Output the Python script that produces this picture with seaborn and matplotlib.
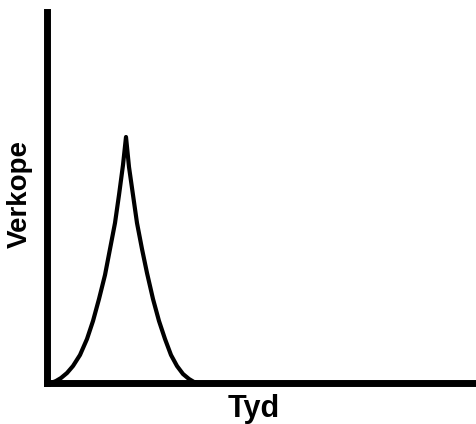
import matplotlib
matplotlib.use("Agg")
import matplotlib.pyplot as plt
import seaborn as sns
import pandas as pd

# Kurwe afgelees van die prent (x = tyd, y = verkope, willekeurige eenhede)
tyd = [4, 9, 14, 20, 26, 33, 40, 46, 52, 58, 63, 68, 72, 76, 79,
       82, 86, 90, 95, 100, 106, 112, 118, 124, 130, 136, 142, 147, 151]
verkope = [0, 2, 5, 10, 17, 28, 44, 62, 84, 108, 134, 160, 188, 218, 246,
           216, 188, 160, 134, 110, 84, 62, 44, 28, 17, 9, 4, 1, 0]

x_titel = "Tyd"
y_titel = "Verkope"

sns.set_style("white")
plt.rcParams['font.family'] = ['Liberation Sans', 'DejaVu Sans']
plt.rcParams['text.color'] = 'black'
plt.rcParams['axes.labelcolor'] = 'black'

fig = plt.figure(figsize=(4.76, 4.24), dpi=100)
ax = fig.add_axes([47 / 476, 41 / 424, 1 - 47 / 476, (383 - 12) / 424])

df = pd.DataFrame({"tyd": tyd, "verkope": verkope})
sns.lineplot(data=df, x="tyd", y="verkope", sort=False, color="black",
             linewidth=3, ax=ax)

ax.set_xlim(0, 429)
ax.set_ylim(0, 371)
ax.set_xticks([])
ax.set_yticks([])
ax.spines["top"].set_visible(False)
ax.spines["right"].set_visible(False)
for s in ["left", "bottom"]:
    ax.spines[s].set_linewidth(5)
    ax.spines[s].set_color("black")

ax.set_xlabel(x_titel, fontsize=22, fontweight="bold")
ax.set_ylabel(y_titel, fontsize=20, fontweight="bold")
ax.xaxis.set_label_coords(0.481, -0.030)
ax.yaxis.set_label_coords(-0.033, 0.509)

plt.savefig("out.png", dpi=100)
